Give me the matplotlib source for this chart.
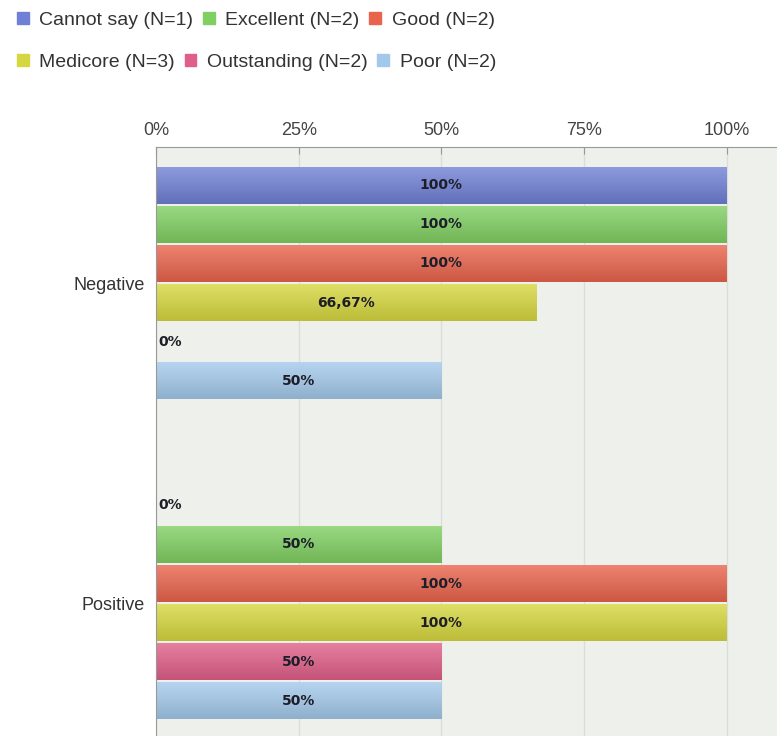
import numpy as np
import matplotlib.pyplot as plt
from matplotlib.colors import to_rgb

plt.rcParams['font.family'] = ['Liberation Sans', 'DejaVu Sans']

categories = ["Negative", "Positive"]
series = ["Cannot say (N=1)", "Excellent (N=2)", "Good (N=2)",
          "Medicore (N=3)", "Outstanding (N=2)", "Poor (N=2)"]
colors = ["#7080d4", "#80cf62", "#e8644c", "#d6d640", "#df5f88", "#a3c9ea"]
values = [
    [100, 0],         # Cannot say
    [100, 50],        # Excellent
    [100, 100],       # Good
    [66.67, 100],     # Medicore
    [0, 50],          # Outstanding
    [50, 50],         # Poor
]
ticks = [0, 25, 50, 75, 100]

fig = plt.figure(figsize=(7.77, 7.36), dpi=100)
ax = fig.add_axes([156 / 777, 0.0, 1 - 156 / 777, 1 - 147 / 736])
ax.set_facecolor("#eef0eb")

step = 0.1219
height = 0.115
y0 = np.arange(len(categories))

for i, (name, col, vals) in enumerate(zip(series, colors, values)):
    ys = y0 + (i - 2.5) * step
    for y, v in zip(ys, vals):
        if v > 0:
            # vertical gradient: lighter top, darker bottom
            top = np.array(to_rgb(col)) * 0.8 + 0.2
            bot = np.array(to_rgb(col)) * 0.88
            grad = np.linspace(0, 1, 40)[:, None, None]
            img = top * (1 - grad) + bot * grad
            ax.imshow(img, extent=[0, v, y + height / 2, y - height / 2],
                      aspect="auto", zorder=2, interpolation="bilinear")
            ax.barh(y, v, height=height, color="none", zorder=3)
        label = f"{v:g}".replace(".", ",") + "%"
        if v > 0:
            ax.text(v / 2, y, label, ha="center", va="center", fontsize=10,
                    color="#1e1e2a", fontweight="bold", zorder=4,
                    family="DejaVu Sans")
        else:
            ax.text(0.5, y, label, ha="left", va="center", fontsize=10,
                    color="#1e1e2a", fontweight="bold", zorder=4,
                    family="DejaVu Sans")

ax.set_xlim(0, 108.8)
ax.set_ylim(1.4156, -0.425)
ax.xaxis.tick_top()
ax.set_xticks(ticks)
ax.set_xticklabels([f"{t}%" for t in ticks], fontsize=13, color="#444444")
ax.tick_params(axis="x", direction="in", length=5, color="#999999", pad=6)
ax.set_yticks(y0)
ax.set_yticklabels(categories, fontsize=13, color="#333333")
ax.tick_params(axis="y", length=0, pad=8)
ax.grid(axis="x", color="#dcdcdc", linewidth=1, zorder=0)
ax.set_axisbelow(True)
for s in ["right", "bottom"]:
    ax.spines[s].set_visible(False)
ax.spines["top"].set_color("#999999")
ax.spines["left"].set_color("#999999")

# two-row legend at the top
for row, anchor in [(0, 1.0023), (1, 0.9453)]:
    idx = range(row * 3, row * 3 + 3)
    handles = [plt.Rectangle((0, 0), 1, 1, color=colors[k]) for k in idx]
    fig.legend(handles, [series[k] for k in idx], loc="upper left",
               bbox_to_anchor=(0.0043, anchor), ncol=3, frameon=False,
               fontsize=14, handlelength=0.6, handleheight=0.6,
               handletextpad=0.55, columnspacing=0.5, borderaxespad=0.3,
               labelcolor="#333333")

fig.savefig("out.png", dpi=100)
